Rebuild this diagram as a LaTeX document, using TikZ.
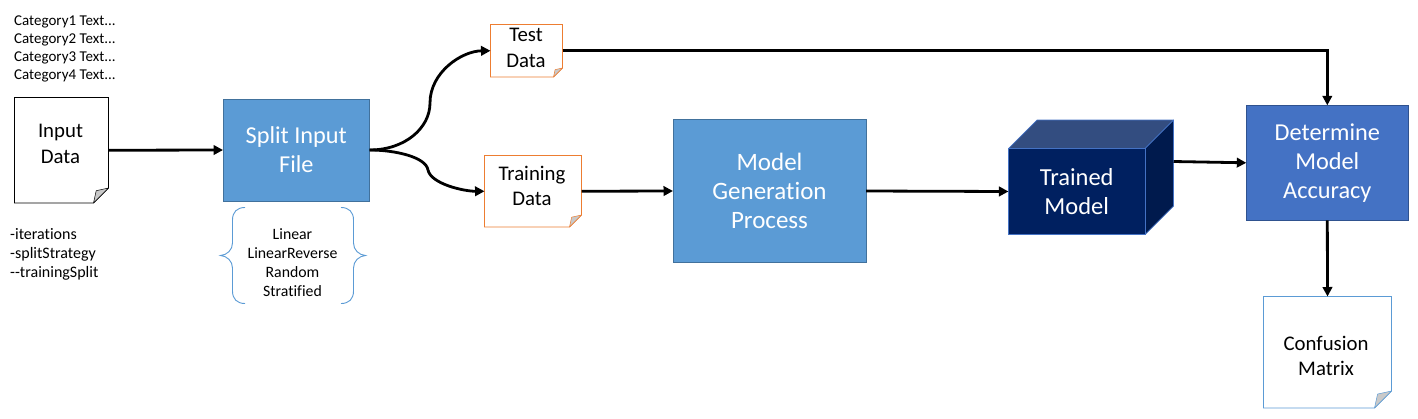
\documentclass[tikz,border=0pt]{standalone}
\usepackage{fontspec}
\setmainfont[Ligatures=NoCommon]{Carlito}
\usetikzlibrary{arrows.meta,calc}
\definecolor{blueA}{HTML}{5B9BD5}
\definecolor{blueAline}{HTML}{41719C}
\definecolor{blueB}{HTML}{4472C4}
\definecolor{blueBline}{HTML}{2F528F}
\definecolor{navyF}{HTML}{002060}
\definecolor{navyT}{HTML}{334D80}
\definecolor{navyS}{HTML}{001A4D}
\definecolor{orangeL}{HTML}{ED7D31}
\definecolor{foldG}{HTML}{C9C9C9}
\tikzset{
  conn/.style={draw=black,line width=2.8pt,-{Triangle[length=9.5pt,width=9.5pt]}},
  procbox/.style={rectangle,fill=blueA,draw=blueAline,line width=.8pt,inner sep=0pt,outer sep=0pt},
  docbox/.style={rectangle,inner sep=0pt,outer sep=0pt},
  whitetxt/.style={text=white,align=center,inner sep=0pt},
  blacktxt/.style={text=black,align=center,inner sep=0pt},
  doctxt/.style={blacktxt,font=\fontsize{20.8}{25.5}\selectfont},
  bracepath/.style={draw=blueA,line width=.9pt},
}
% name, x1,y1,x2,y2, fold, colour
\newcommand{\docshape}[7]{%
  \node[docbox,minimum width=#4pt-#2pt,minimum height=#5pt-#3pt] (#1) at ({(#2+#4)/2},{(#3+#5)/2}) {};
  \draw[#7,fill=white,line width=.9pt,line join=miter] (#2,#3) -- (#4,#3) -- (#4,#5-#6) -- (#4-#6,#5) -- (#2,#5) -- cycle;
  \draw[#7,fill=foldG,line width=.5pt,line join=round] (#4,#5-#6) -- (#4-#6,#5) -- (#4-#6*0.82,#5-#6*0.82) -- cycle;
}
\begin{document}
\begin{tikzpicture}[x=1pt,y=-1pt]
\useasboundingbox (0,0) rectangle (1418,418);
\fill[white] (0,0) rectangle (1418,418);

% documents
\docshape{input}{14.5}{97.5}{108.5}{203}{15}{black}
\node[doctxt] (inputtxt) at (60.5,144) {Input\\Data};
\docshape{test}{490.5}{24.5}{562.5}{77}{9}{orangeL}
\node[doctxt] (testtxt) at (526,48) {Test\\Data};
\docshape{training}{484.5}{155.5}{581.5}{227}{12}{orangeL}
\node[doctxt] (trainingtxt) at (532,186) {Training\\Data};
\docshape{confusion}{1263.5}{296.5}{1391.5}{408}{17}{blueA}
\node[doctxt] (confusiontxt) at (1326,356) {Confusion\\Matrix};

% process boxes
\node[procbox,minimum width=146.5pt,minimum height=102pt,whitetxt,font=\fontsize{24.3}{29}\selectfont] (split) at (296.3,150) {Split Input\\File};
\node[procbox,minimum width=193pt,minimum height=143pt,whitetxt,font=\fontsize{25}{29}\selectfont] (gen) at (769.5,191) {Model\\Generation\\Process};
\node[procbox,fill=blueB,draw=blueBline,minimum width=162pt,minimum height=115pt,whitetxt,font=\fontsize{24.3}{29}\selectfont] (det) at (1327.3,162.8) {Determine\\Model\\Accuracy};

% cube
\fill[navyT,draw=blueB,line width=.7pt,line join=round] (1008.5,148.5) -- (1037,120) -- (1173.5,120) -- (1145,148.5) -- cycle;
\fill[navyS,draw=blueB,line width=.7pt,line join=round] (1145,148.5) -- (1173.5,120) -- (1173.5,206) -- (1145,234.5) -- cycle;
\node[rectangle,fill=navyF,draw=blueB,line width=.7pt,inner sep=0pt,outer sep=0pt,minimum width=136.5pt,minimum height=86pt,whitetxt,font=\fontsize{24.5}{29}\selectfont] (cube) at (1076.7,191.5) {Trained\\Model};
\coordinate (cubeout) at (1173.5,161.5);

% small texts
\node[blacktxt,align=left,anchor=west,font=\fontsize{15}{18}\selectfont] (cats) at (14,48.5) {Category1 Text...\\Category2 Text...\\Category3 Text...\\Category4 Text...};
\node[blacktxt,align=left,anchor=west,font=\fontsize{16}{19}\selectfont] (params) at (10,254.5) {-iterations\\-splitStrategy\\{-}{-}trainingSplit};
\node[blacktxt,font=\fontsize{15.8}{19.2}\selectfont] (strategies) at (292.5,262.5) {Linear\\LinearReverse\\Random\\Stratified};

% braces
\draw[bracepath] (245,207.5) .. controls (237,207.5) and (232.5,212) .. (232.5,220) -- (232.5,243) .. controls (232.5,250) and (227,255) .. (220.5,255.5) .. controls (227,256) and (232.5,261) .. (232.5,268) -- (232.5,291) .. controls (232.5,299) and (237,303.5) .. (245,303.5);
\draw[bracepath] (341,207.5) .. controls (349,207.5) and (353.5,212) .. (353.5,220) -- (353.5,243) .. controls (353.5,250) and (359,255) .. (365.5,255.5) .. controls (359,256) and (353.5,261) .. (353.5,268) -- (353.5,291) .. controls (353.5,299) and (349,303.5) .. (341,303.5);

% connectors
\draw[conn] (input.east) -- (split.west);
\draw[conn] (split.east) .. controls (405,150) and (430,128) .. (430,103) .. controls (430,72) and (462,51) .. (test.west);
\draw[conn] (split.east) .. controls (395,150) and (426,157) .. (428,170) .. controls (431,184) and (464,191.3) .. (training.west);
\draw[conn] (training.east) -- (gen.west);
\draw[conn] (gen.east) -- (cube.west);
\draw[conn] (cubeout) -- (det.west);
\draw[conn] (test.east) -| (det.north);
\draw[conn] (det.south) -- (confusion.north);
\end{tikzpicture}
\end{document}
